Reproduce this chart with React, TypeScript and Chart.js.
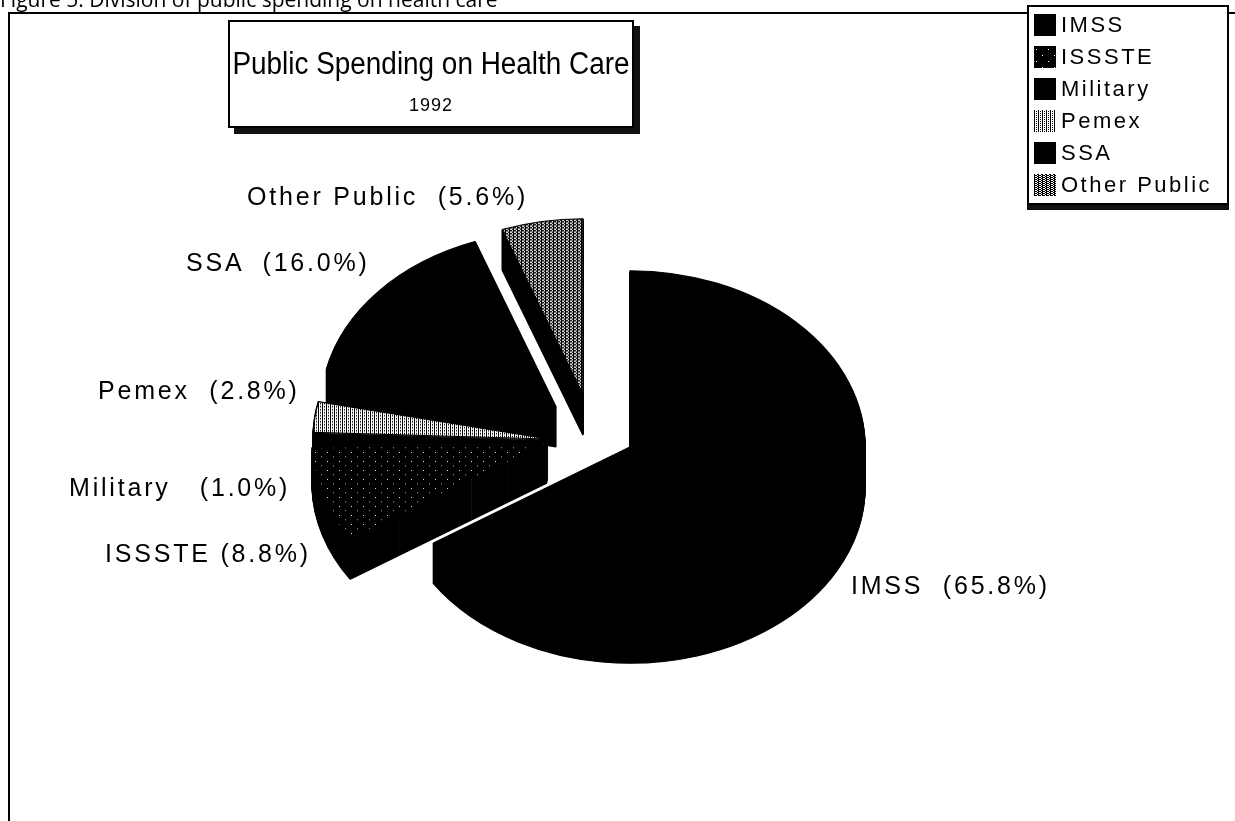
import React, { useEffect, useRef } from "react";
import { Chart, registerables } from "chart.js";

Chart.register(...registerables);

// ---- data ----
const categories = ["IMSS", "ISSSTE", "Military", "Pemex", "SSA", "Other Public"];
const shares = [65.8, 8.8, 1.0, 2.8, 16.0, 5.6];
const titleText = "Public Spending on Health Care";
const subtitleText = "1992";
const captionText = "Figure 5: Division of public spending on health care";

// ---- layout / style (not data) ----
const fills = ["solid", "dots", "solid", "light", "solid", "mesh"];
// explode shift of each slice in screen px
const explodeX = [0, -83, -82, -82, -74, -47];
const explodeY = [0, -4, -6, -8, -40, -52];
const labelLeft = [851, 105, 69, 98, 186, 247];
const labelMid = [585, 553, 487, 390, 262, 196];
const labelGap = ["  ", " ", "   ", "  ", "  ", "  "];
const TILT = 0.75;
const DEPTH = 40;

function makeTile(kind: string): HTMLCanvasElement {
  const c = document.createElement("canvas");
  const size = kind === "dots" ? 12 : 4;
  c.width = size;
  c.height = size;
  const g = c.getContext("2d")!;
  if (kind === "solid") {
    g.fillStyle = "#000";
    g.fillRect(0, 0, size, size);
  } else if (kind === "dots") {
    g.fillStyle = "#000";
    g.fillRect(0, 0, size, size);
    g.fillStyle = "#fff";
    g.fillRect(2, 3, 1, 1);
    g.fillRect(8, 9, 1, 1);
  } else if (kind === "light") {
    g.fillStyle = "#fff";
    g.fillRect(0, 0, size, size);
    g.fillStyle = "#000";
    g.fillRect(0, 0, 1, 4);
    g.fillRect(2, 1, 1, 1);
    g.fillRect(2, 3, 1, 1);
  } else {
    g.fillStyle = "#000";
    g.fillRect(0, 0, size, size);
    g.fillStyle = "#fff";
    g.fillRect(1, 0, 2, 1);
    g.fillRect(1, 2, 2, 1);
    g.fillRect(3, 1, 1, 1);
    g.fillRect(3, 3, 1, 1);
  }
  return c;
}

const pie3d = {
  id: "pie3d",
  beforeDatasetsDraw(chart: any) {
    const ctx: CanvasRenderingContext2D = chart.ctx;
    const meta = chart.getDatasetMeta(0);
    const els = meta.data;
    if (!els.length) return false;
    const cx = els[0].x;
    const cy = els[0].y;
    const place = (i: number, d: number) => {
      ctx.translate(explodeX[i], explodeY[i] + d);
      ctx.translate(cx, cy);
      ctx.scale(1, TILT);
      ctx.translate(-cx, -cy);
    };
    for (let d = DEPTH; d > 0; d -= 1) {
      els.forEach((el: any, i: number) => {
        ctx.save();
        place(i, d);
        el.draw(ctx, chart.chartArea);
        ctx.restore();
      });
    }
    els.forEach((el: any, i: number) => {
      ctx.save();
      place(i, 0);
      el.draw(ctx, chart.chartArea);
      ctx.restore();
    });
    return false;
  },
};

function swatchUrl(kind: string): string {
  const c = document.createElement("canvas");
  c.width = 22;
  c.height = 22;
  const g = c.getContext("2d")!;
  g.fillStyle = g.createPattern(makeTile(kind), "repeat")!;
  g.fillRect(0, 0, 22, 22);
  return c.toDataURL();
}

const labelFont = "'Liberation Sans', Arial, sans-serif";

export default function App() {
  const ref = useRef<HTMLCanvasElement>(null);
  const [swatches, setSwatches] = React.useState<string[]>([]);

  useEffect(() => {
    setSwatches(fills.map(swatchUrl));
    const ctx = ref.current!.getContext("2d")!;
    const patterns = fills.map((k) => ctx.createPattern(makeTile(k), "repeat")!);
    const chart = new Chart(ref.current!, {
      type: "pie",
      data: {
        labels: categories,
        datasets: [
          {
            data: shares,
            backgroundColor: patterns,
            borderColor: "#000",
            borderWidth: 1.5,
            radius: 235,
            clip: false,
          } as any,
        ],
      },
      options: {
        responsive: false,
        animation: false,
        devicePixelRatio: 1,
        rotation: 0,
        layout: { padding: { left: 25, right: 0, top: 73, bottom: 0 } },
        plugins: {
          legend: { display: false },
          tooltip: { enabled: false },
          title: { display: false },
        },
        events: [],
      },
      plugins: [pie3d],
    });
    return () => chart.destroy();
  }, []);

  return (
    <div
      style={{
        position: "absolute",
        left: 0,
        top: 0,
        width: 1235,
        height: 821,
        overflow: "hidden",
        background: "#fff",
        fontFamily: labelFont,
        color: "#000",
      }}
    >
      <canvas
        ref={ref}
        width={1235}
        height={821}
        style={{ position: "absolute", left: 0, top: 0, width: 1235, height: 821 }}
      />
      {/* caption (cut off at top) */}
      <div
        style={{
          position: "absolute",
          left: 0,
          top: -13,
          fontFamily: "'Open Sans', sans-serif",
          fontSize: 21,
          lineHeight: "24px",
          whiteSpace: "nowrap",
        }}
      >
        {captionText}
      </div>
      {/* frame */}
      <div style={{ position: "absolute", left: 8, top: 12, width: 1227, height: 2, background: "#000" }} />
      <div style={{ position: "absolute", left: 8, top: 12, width: 2, height: 809, background: "#000" }} />
      {/* title box */}
      <div
        style={{
          position: "absolute",
          left: 228,
          top: 20,
          width: 402,
          height: 104,
          border: "2px solid #000",
          boxShadow: "6px 6px 0 #111",
          background: "#fff",
        }}
      >
        <div
          style={{
            position: "absolute",
            left: 201,
            top: 24,
            fontSize: 31,
            lineHeight: "36px",
            whiteSpace: "nowrap",
            transform: "translateX(-50%) scaleX(0.9)",
            transformOrigin: "center",
          }}
        >
          {titleText}
        </div>
        <div
          style={{
            position: "absolute",
            left: 0,
            width: 402,
            top: 72,
            textAlign: "center",
            fontSize: 18,
            lineHeight: "22px",
            letterSpacing: 1,
          }}
        >
          {subtitleText}
        </div>
      </div>
      {/* legend */}
      <div
        style={{
          position: "absolute",
          left: 1027,
          top: 5,
          width: 198,
          height: 196,
          border: "2px solid #000",
          boxShadow: "0 5px 0 #111",
          background: "#fff",
        }}
      >
        {categories.map((c, i) => (
          <div
            key={c}
            style={{
              position: "absolute",
              left: 5,
              top: 4 + i * 32,
              height: 28,
              display: "flex",
              alignItems: "center",
              fontSize: 22,
              letterSpacing: 2.5,
              whiteSpace: "nowrap",
            }}
          >
            <span
              style={{
                display: "inline-block",
                width: 22,
                height: 22,
                marginRight: 5,
                backgroundColor: "#000",
                backgroundImage: swatches[i] ? `url(${swatches[i]})` : "none",
              }}
            />
            {c}
          </div>
        ))}
      </div>
      {/* slice labels */}
      {categories.map((c, i) => (
        <div
          key={"l" + c}
          style={{
            position: "absolute",
            left: labelLeft[i],
            top: labelMid[i] - 15,
            height: 30,
            lineHeight: "30px",
            fontSize: 25,
            letterSpacing: 2.8,
            whiteSpace: "pre",
          }}
        >
          {`${c}${labelGap[i]}(${shares[i].toFixed(1)}%)`}
        </div>
      ))}
    </div>
  );
}
